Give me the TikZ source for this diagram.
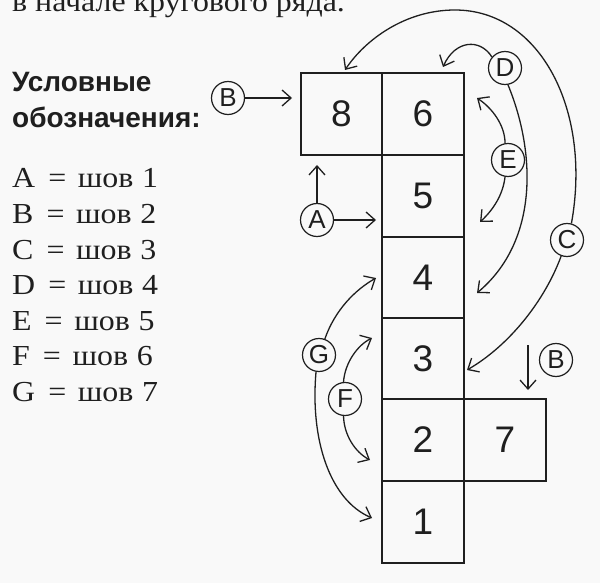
\documentclass[tikz,border=0pt]{standalone}
\usepackage{fontspec}
\setmainfont{Liberation Serif}[FakeStretch=1.1]
\newfontfamily\sansfont{Liberation Sans}
\usetikzlibrary{arrows.meta}

\tikzset{
    cell/.style={draw, line width=1.6pt, minimum size=81.5pt, inner sep=0pt,
        font=\sansfont\fontsize{37}{37}\selectfont},
    letter/.style={draw, circle, line width=1.2pt, minimum size=33pt, inner sep=0pt,
        font=\sansfont\fontsize{26}{26}\selectfont},
    seam/.style={->, line width=1.3pt},
    legend/.style={anchor=base west, inner sep=0pt, font=\fontsize{29}{29}\selectfont},
    heading/.style={anchor=base west, inner sep=0pt,
        font=\sansfont\bfseries\fontsize{28}{28}\selectfont},
}

\begin{document}
\begin{tikzpicture}[x=1pt, y=-1pt, >={Straight Barb[length=9pt,width=16pt]},
        color={black!88}]
    \useasboundingbox (0,0) rectangle (600,583);
    \clip (0,0) rectangle (600,583);
    \fill[gray!5] (0,0) rectangle (600,583);

    % text left of the scheme
    \node[legend] (top) at (12,12) {в начале кругового ряда.};
    \node[heading] (head1) at (12,92) {Условные};
    \node[heading] (head2) at (12,128) {обозначения:};
    \foreach \l/\n [count=\i from 0] in {A/1,B/2,C/3,D/4,E/5,F/6,G/7}
        \node[legend] (key\l) at (12,{188+35.5*\i})
            {\l\hspace{0.45em}=\hspace{0.4em}шов\hspace{0.3em}\n};

    % the squares
    \node[cell] (b8) at (341.5,114) {8};
    \node[cell] (b6) at (423,114) {6};
    \node[cell] (b5) at (423,196) {5};
    \node[cell] (b4) at (423,277.5) {4};
    \node[cell] (b3) at (423,358.5) {3};
    \node[cell] (b2) at (423,440) {2};
    \node[cell] (b7) at (505,440) {7};
    \node[cell] (b1) at (423,522) {1};

    % seam letters
    \node[letter] (sA) at (317,220) {A};
    \node[letter] (sB) at (228,98) {B};
    \node[letter] (sB2) at (556,360) {B};
    \node[letter] (sC) at (567,240) {C};
    \node[letter] (sD) at (505,68) {D};
    \node[letter] (sE) at (508,160) {E};
    \node[letter] (sF) at (345,399) {F};
    \node[letter] (sG) at (319,355) {G};

    % arrow ends
    \coordinate (tB) at (292,98);
    \coordinate (tAr) at (376,220);
    \coordinate (tAu) at (317,165);
    \coordinate (tC) at (345,70);
    \coordinate (tC2) at (467,370);
    \coordinate (tD) at (443,67);
    \coordinate (tD2) at (477,293);
    \coordinate (tE) at (477,98);
    \coordinate (tE2) at (480,222);
    \coordinate (tF) at (372,338);
    \coordinate (tF2) at (370,460);
    \coordinate (tG) at (376,278);
    \coordinate (tG2) at (372,518);
    \coordinate (fB2) at (528,345);
    \coordinate (tB2) at (528,390);

    % seams
    \draw[seam] (sA) -- (tAr);
    \draw[seam] (sA) -- (tAu);
    \draw[seam] (sB) -- (tB);
    \draw[seam] (fB2) -- (tB2);
    \draw[seam] (sC.75) .. controls (592,110) and (540,10) .. (455,10)
        .. controls (405,10) and (365,40) .. (tC);
    \draw[seam] (sC.250) .. controls (545,300) and (510,345) .. (tC2);
    \draw[seam] (sD.140) .. controls (480,38) and (455,40) .. (tD);
    \draw[seam] (sD.280) .. controls (535,150) and (540,240) .. (tD2);
    \draw[seam] (sE.100) .. controls (505,125) and (492,108) .. (tE);
    \draw[seam] (sE.260) .. controls (503,195) and (493,210) .. (tE2);
    \draw[seam] (sF.95) .. controls (345,362) and (358,345) .. (tF);
    \draw[seam] (sF.265) .. controls (344,435) and (355,452) .. (tF2);
    \draw[seam] (sG.70) .. controls (335,310) and (355,290) .. (tG);
    \draw[seam] (sG.260) .. controls (310,440) and (330,500) .. (tG2);
\end{tikzpicture}
\end{document}
